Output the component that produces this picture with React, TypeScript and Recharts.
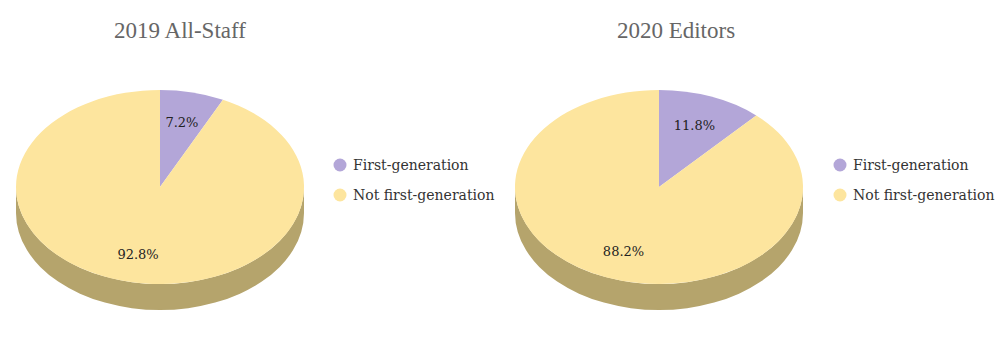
import React from 'react';
import { PieChart, Pie, Cell, Legend } from 'recharts';

const categories = ['First-generation', 'Not first-generation'];
const titles = ['2019 All-Staff', '2020 Editors'];
const staff2019 = [7.2, 92.8];
const editors2020 = [11.8, 88.2];

const topColors = ['#b3a6d8', '#fde59e'];
const sideColors = ['#7e7399', '#b5a46c'];

const RY_RATIO = 97 / 144;
const DEPTH = 26;
const RAD = Math.PI / 180;

function pt(cx: number, cy: number, rx: number, ry: number, a: number): [number, number] {
  return [cx + rx * Math.cos(a * RAD), cy - ry * Math.sin(a * RAD)];
}

function EllipseSector(props: any) {
  const { cx, cy, outerRadius, startAngle, endAngle, index } = props;
  const rx = outerRadius;
  const ry = outerRadius * RY_RATIO;
  const hi = Math.max(startAngle, endAngle);
  const lo = Math.min(startAngle, endAngle);
  const [x1, y1] = pt(cx, cy, rx, ry, hi);
  const [x2, y2] = pt(cx, cy, rx, ry, lo);
  const large = hi - lo > 180 ? 1 : 0;
  const top = `M${cx},${cy} L${x1},${y1} A${rx},${ry} 0 ${large} 1 ${x2},${y2} Z`;
  const walls: string[] = [];
  for (const k of [-1, 0, 1]) {
    const fa = -180 + 360 * k;
    const fb = 0 + 360 * k;
    const a1 = Math.max(lo, fa);
    const a2 = Math.min(hi, fb);
    if (a2 > a1) {
      const [p2x, p2y] = pt(cx, cy, rx, ry, a2);
      const [p1x, p1y] = pt(cx, cy, rx, ry, a1);
      const lg = a2 - a1 > 180 ? 1 : 0;
      walls.push(
        `M${p2x},${p2y} A${rx},${ry} 0 ${lg} 1 ${p1x},${p1y} L${p1x},${p1y + DEPTH} A${rx},${ry} 0 ${lg} 0 ${p2x},${p2y + DEPTH} Z`
      );
    }
  }
  return (
    <g>
      {walls.map((d, i) => (
        <path key={i} d={d} fill={sideColors[index % sideColors.length]} stroke="none" />
      ))}
      <path d={top} fill={topColors[index % topColors.length]} stroke="none" />
    </g>
  );
}

function renderLabel(props: any) {
  const { cx, cy, midAngle, outerRadius, value } = props;
  const rx = outerRadius * 0.68;
  const ry = outerRadius * RY_RATIO * 0.7;
  const [x, y] = pt(cx, cy, rx, ry, midAngle);
  return (
    <text
      x={x}
      y={y + 1.5}
      textAnchor="middle"
      dominantBaseline="central"
      fill="#222"
      fontSize={13}
      fontFamily="'DejaVu Serif', serif"
    >
      {`${Number(value).toFixed(1)}%`}
    </text>
  );
}

function LegendContent(props: any) {
  const payload = props.payload || [];
  return (
    <div>
      {payload.map((p: any, i: number) => (
        <div
          key={i}
          style={{ display: 'flex', alignItems: 'center', height: 30, fontFamily: "'DejaVu Serif', serif", fontSize: 14, color: '#333' }}
        >
          <svg width={14} height={14} style={{ marginRight: 6 }}>
            <circle cx={7} cy={7} r={6.5} fill={topColors[i % topColors.length]} />
          </svg>
          <span>{p.value}</span>
        </div>
      ))}
    </div>
  );
}

function OnePie({ values, title, cx, titleX }: { values: number[]; title: string; cx: number; titleX: number }) {
  const data = categories.map((c, i) => ({ name: c, value: values[i] }));
  return (
    <div style={{ position: 'relative', width: 500, height: 361 }}>
      <div
        style={{
          position: 'absolute',
          left: titleX - 150,
          width: 300,
          top: 17,
          textAlign: 'center',
          fontFamily: "'Liberation Serif', serif",
          fontSize: 23,
          lineHeight: '28px',
          color: '#666',
        }}
      >
        {title}
      </div>
      <PieChart width={500} height={361} margin={{ top: 0, right: 0, bottom: 0, left: 0 }} style={{ position: 'absolute', left: 0, top: 0 }}>
        <Pie
          data={data}
          dataKey="value"
          nameKey="name"
          cx={cx}
          cy={187}
          outerRadius={144}
          startAngle={90}
          endAngle={-270}
          isAnimationActive={false}
          shape={EllipseSector}
          label={renderLabel}
          labelLine={false}
          stroke="none"
        >
          {data.map((d, i) => (
            <Cell key={d.name} fill={topColors[i]} />
          ))}
        </Pie>
        <Legend
          layout="vertical"
          content={LegendContent}
          wrapperStyle={{ position: 'absolute', left: 333, top: 150, width: 170 }}
        />
      </PieChart>
    </div>
  );
}

export default function App() {
  return (
    <div style={{ position: 'absolute', left: 0, top: 0, width: 1000, height: 361, background: '#fff', display: 'flex' }}>
      <OnePie values={staff2019} title={titles[0]} cx={160} titleX={180} />
      <OnePie values={editors2020} title={titles[1]} cx={159} titleX={176} />
    </div>
  );
}
